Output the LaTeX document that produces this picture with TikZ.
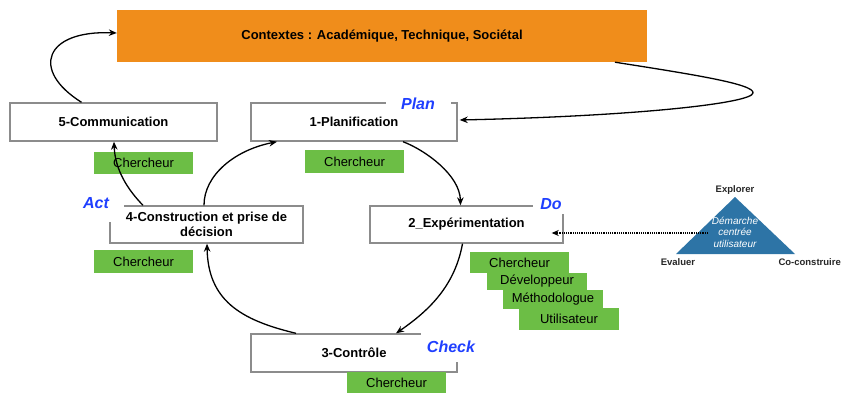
\documentclass[tikz,border=0pt]{standalone}
\usepackage{fontspec}
\setmainfont{Liberation Sans}
\usetikzlibrary{arrows.meta,calc}
\definecolor{ctxorange}{HTML}{F08D1B}
\definecolor{rolegreen}{HTML}{6CBE45}
\definecolor{pdcablue}{HTML}{1F3FFF}
\definecolor{trifill}{HTML}{2D74A6}
\definecolor{boxgray}{HTML}{8C8C8C}
\begin{document}
\begin{tikzpicture}[x=1pt,y=-1pt,
  stage/.style={draw=boxgray,line width=1.4pt,fill=white,inner sep=0pt,align=center,
    font=\bfseries\fontsize{13}{15}\selectfont},
  role/.style={fill=rolegreen,inner sep=0pt,minimum width=99pt,minimum height=22pt,
    font=\fontsize{13}{15}\selectfont},
  pdca/.style={fill=white,text=pdcablue,inner sep=0pt,
    font=\bfseries\itshape\fontsize{16}{18}\selectfont},
  trilabel/.style={font=\bfseries\fontsize{9.5}{11}\selectfont,text=black!85,inner sep=0pt},
  flow/.style={-{Stealth[length=8pt,width=6.5pt]},line width=1.3pt},
  userflow/.style={-{Stealth[length=7pt,width=6pt]},line width=1.2pt,densely dotted}]
\useasboundingbox (0,0) rectangle (841,393);

% context box
\node[fill=ctxorange,minimum width=530pt,minimum height=52pt,inner sep=0pt,
  font=\bfseries\fontsize{13}{15}\selectfont] (ctx) at (382,36)
  {Contextes : Académique, Technique, Sociétal};

% stages
\node[stage,minimum width=207pt,minimum height=38pt] (comm) at (113.5,122) {5-Communication};
\node[stage,minimum width=206pt,minimum height=38pt] (plan) at (354,122) {1-Planification};
\node[stage,minimum width=193pt,minimum height=37pt] (cons) at (206.5,224.5) {4-Construction et prise de\\décision};
\node[stage,minimum width=193pt,minimum height=37pt] (exp) at (466.5,224.5) {2\_Expérimentation};
\node[stage,minimum width=206pt,minimum height=38pt] (ctrl) at (354,353) {3-Contrôle};

% PDCA labels (white background cuts the box borders)
\node[pdca,minimum width=65pt,minimum height=18pt] (lplan) at (418,104) {Plan};
\node[pdca,minimum width=36pt,minimum height=20pt] (ldo) at (551,204) {Do};
\node[pdca,minimum width=56pt,minimum height=38pt] (lact) at (96,203) {Act};
\node[pdca,minimum width=60pt,minimum height=30pt] (lcheck) at (451,347) {Check};

% roles
\node[role] (r5) at (143.5,163) {Chercheur};
\node[role,minimum height=23pt] (r1) at (354.5,161.5) {Chercheur};
\node[role,minimum height=23pt] (r4) at (143.5,261.5) {Chercheur};
\node[role] (r3) at (396.5,383) {Chercheur};
\node[role,minimum height=21pt] (s1) at (519.5,262.5) {Chercheur};
\node[role,minimum width=100pt,minimum height=17pt] (s2) at (537,281.5) {Développeur};
\node[role,minimum width=100pt,minimum height=19pt] (s3) at (553,299) {Méthodologue};
\node[role,minimum width=100pt,minimum height=22pt] (s4) at (569,319) {Utilisateur};

% user-centred triangle
\fill[trifill] (735,197) -- (795,254) -- (676,254) -- cycle;
\node[text=white,align=center,inner sep=0pt,font=\itshape\fontsize{10}{11.5}\selectfont] (tri) at (735,232)
  {Démarche\\centrée\\utilisateur};
\node[trilabel] (explorer) at (735,190) {Explorer};
\node[trilabel] (evaluer) at (678,262) {Evaluer};
\node[trilabel,anchor=east] (cocons) at (841,262) {Co-construire};
\coordinate (dstart) at (708,233);
\draw[userflow] (dstart) -- ([xshift=-12pt,yshift=-8.5pt]exp.east);

% connectors
\draw[flow] ([xshift=-32pt]comm.north) .. controls (30,70) and (45,30) .. ([yshift=3pt]ctx.west);
\coordinate (turn) at (753,93);
\draw[flow] ([xshift=233pt]ctx.south) .. controls (690,74) and (755,84) .. (turn)
  .. controls (752,103) and (640,116) .. ([xshift=2pt,yshift=2pt]plan.east);
\draw[flow] ([xshift=49pt]plan.south) .. controls (425,150) and (460,175) .. ([xshift=-6pt]exp.north);
\draw[flow] ([xshift=-4pt]exp.south) .. controls (455,285) and (430,310) .. ([xshift=42pt]ctrl.north);
\draw[flow] ([xshift=-58pt]ctrl.north) .. controls (240,320) and (208,300) .. ([xshift=0.5pt]cons.south);
\draw[flow] ([xshift=-2.5pt]cons.north) .. controls (204,175) and (235,150) .. ([xshift=-77pt]plan.south);
\draw[flow] ([xshift=-63.5pt]cons.north) .. controls (128,190) and (115,170) .. ([xshift=0.5pt]comm.south);
\end{tikzpicture}
\end{document}
